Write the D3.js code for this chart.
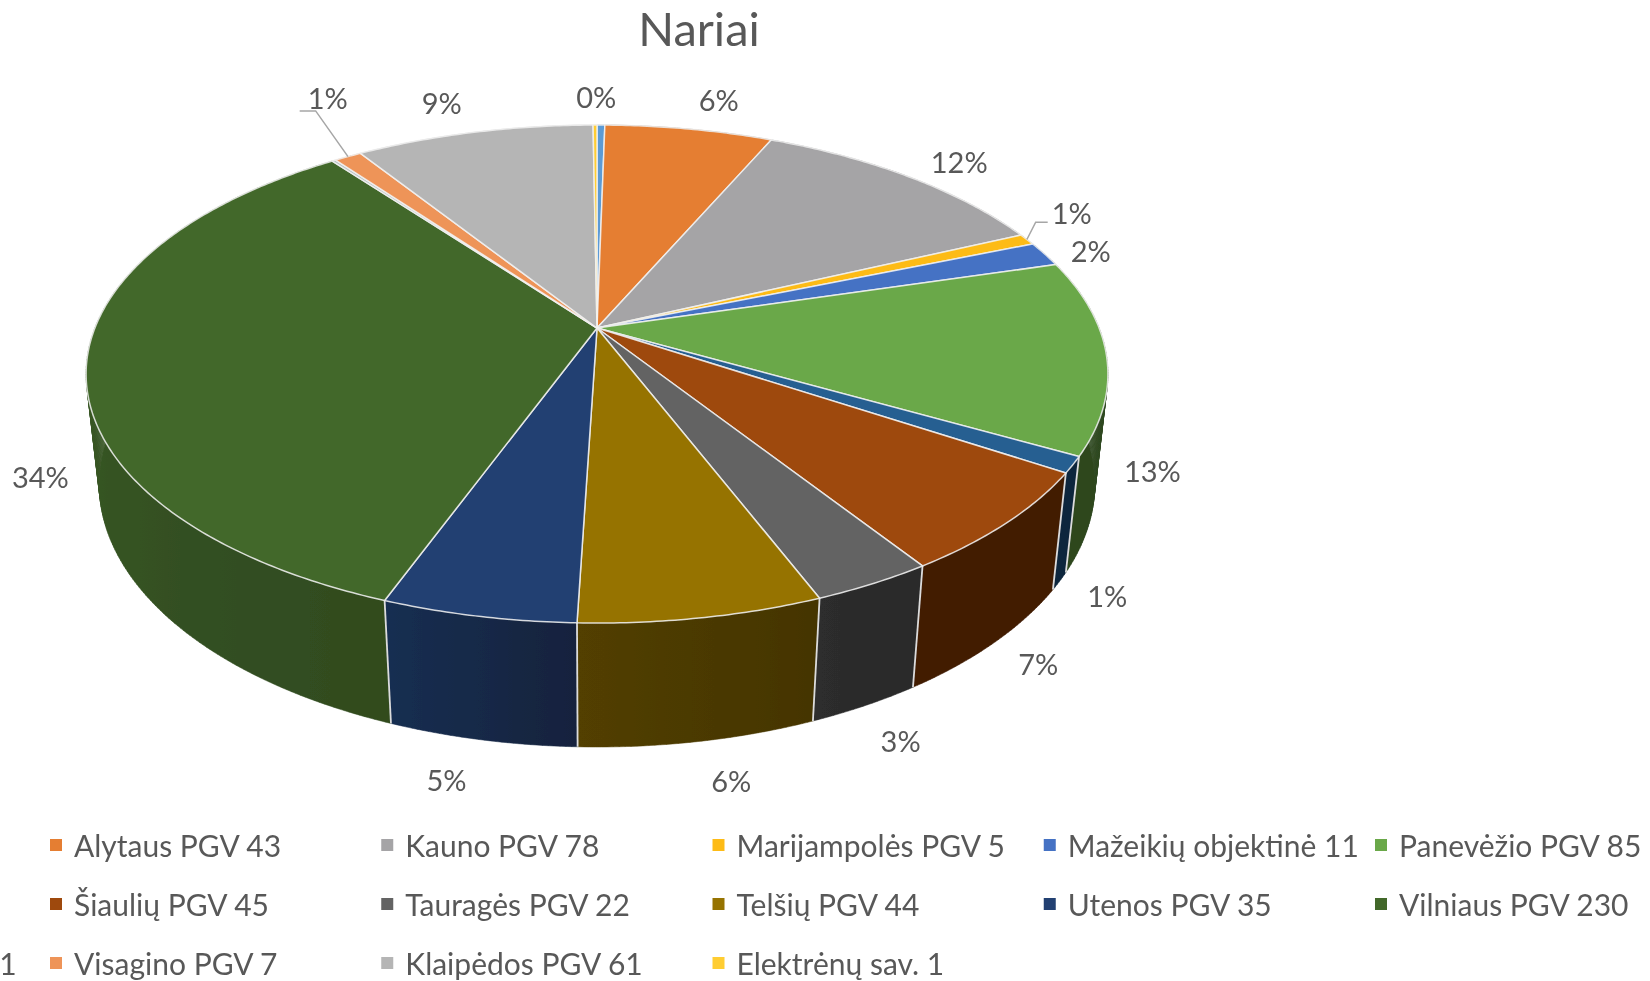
<!DOCTYPE html>
<html>
<head>
<meta charset="utf-8">
<script src="https://d3js.org/d3.v7.min.js"></script>
<style>
	html, body { margin: 0; padding: 0; background: #fff; }
	svg { display: block; }
	text { font-family: Lato, "Open Sans", sans-serif; fill: #595959; }
</style>
</head>
<body>
<svg class="pieGraph"></svg>
<script>
// slices in drawing order, clockwise from 12 o'clock. Blank names have no legend entry
const sliceNames = ['', 'Alytaus PGV', 'Kauno PGV', 'Marijampolės PGV', 'Mažeikių objektinė', 'Panevėžio PGV', '', 'Šiaulių PGV', 'Tauragės PGV', 'Telšių PGV', 'Utenos PGV', 'Vilniaus PGV', '', 'Visagino PGV', 'Klaipėdos PGV', 'Elektrėnų sav.'];
const sliceValues = [2, 43, 78, 5, 11, 85, 7, 45, 22, 44, 35, 230, 1, 7, 61, 1];
const sliceColors = ['#5b9bd5', '#e57e31', '#a5a4a6', '#fdbb16', '#4472c4', '#6aa84a', '#255e91', '#9e480e', '#636363', '#967300', '#234172', '#43682b', '#b9c4c4', '#ee9458', '#b5b5b5', '#ffcd33'];
const noLabel = [12, 15];
const clippedLegendText = '1';
const titleText = 'Nariai';

// where each percent label sits, relative to the rim point of its slice
const labelNudge = {
	0: [-5, -12], 1: [22, -13], 2: [23, -2], 3: [5, -19], 4: [4, 3], 5: [8, 1], 6: [-4, -2],
	7: [-3, -2], 8: [3, 2], 9: [20, 1], 10: [-21, 2], 11: [-8, -2], 13: [1, -44], 14: [-22, -13]
};
// leader lines: elbow and end, relative to the label centre
const leaders = {
	3: [[-36, 10], [-24, 10]],
	13: [[-12, 13], [-28, 13]]
};

const svg = d3.select('.pieGraph')
	.attr('width', 1650)
	.attr('height', 981);

const defs = svg.append('defs');
defs.append('filter')
	.attr('id', 'soft')
	.attr('x', 0).attr('y', 0).attr('width', 1).attr('height', 1)
	.attr('filterUnits', 'objectBoundingBox')
	.append('feGaussianBlur')
	.attr('stdDeviation', 0.6);

const root = svg.append('g').attr('filter', 'url(#soft)');
root.append('rect').attr('width', 1650).attr('height', 981).attr('fill', '#fff');

// camera for the tilted disc, the radius of the pie is 1
const cam = { cx: 597, cy: 328, f: 2385, d: 4.75, sin: 0.878, cos: 0.479 },
	depth = 0.2535;

const project = (angle, r, h) => {
	const u = r * Math.sin(angle),
		v = -r * Math.cos(angle),
		w = cam.d - v * cam.sin - h * cam.cos;
	return [cam.cx + cam.f * u / w, cam.cy + cam.f * (v * cam.cos - h * cam.sin) / w];
};

const total = d3.sum(sliceValues);
const percent = d3.format('.0%');
const colorScale = d3.scaleOrdinal().domain(d3.range(sliceValues.length)).range(sliceColors);
const line = d3.line();

const arcs = d3.pie().sort(null).value(d => d)(sliceValues);
const midAngle = d => (d.startAngle + d.endAngle) / 2;

const samples = (a0, a1, step = 0.01) => {
	const n = Math.max(1, Math.ceil((a1 - a0) / step));
	return d3.range(n + 1).map(i => a0 + (a1 - a0) * i / n);
};

// walls go dark on the right of the disc and lighter towards the left
const wallShade = d3.scaleLinear()
	.domain([0, 150, 185, 200, 270, 360].map(d => d * Math.PI / 180))
	.range([0.42, 0.42, 0.56, 0.72, 0.85, 0.85])
	.clamp(true);

const wallFill = (i, a) => {
	const c = d3.rgb(colorScale(i)), s = wallShade(a);
	return d3.rgb(c.r * s, c.g * s, c.b * s).formatHex();
};

// one horizontal gradient per wall, running from the start of the slice to its far x
arcs.forEach(d => {
	const cuts = samples(d.startAngle, d.endAngle, 0.05);
	const xs = cuts.map(a => project(a, 1, 0)[0]);
	const x0 = xs[0];
	const x1 = xs.reduce((far, x) => Math.abs(x - x0) > Math.abs(far - x0) ? x : far, x0);
	const grad = defs.append('linearGradient')
		.attr('id', `wall-${d.index}`)
		.attr('gradientUnits', 'userSpaceOnUse')
		.attr('x1', x0).attr('y1', 0)
		.attr('x2', x1 === x0 ? x0 + 1 : x1).attr('y2', 0);
	cuts.forEach((a, k) => {
		grad.append('stop')
			.attr('offset', x1 === x0 ? 0 : (xs[k] - x0) / (x1 - x0))
			.attr('stop-color', wallFill(d.index, a));
	});
});

// the rims cross at the sides of the disc, so a wall is a run of small quads
const wallPath = d => d3.pairs(samples(d.startAngle, d.endAngle)).map(([a0, a1]) =>
	line([project(a0, 1, 0), project(a1, 1, 0), project(a1, 1, -depth), project(a0, 1, -depth)]) + 'Z'
).join('');

const wallG = root.append('g').attr('class', 'walls');
wallG.selectAll('path')
	.data(arcs.slice().sort((a, b) => Math.cos(b.startAngle) - Math.cos(a.startAngle)))
	.join('path')
	.attr('d', wallPath)
	.attr('fill', d => `url(#wall-${d.index})`)
	.attr('stroke', d => `url(#wall-${d.index})`)
	.attr('stroke-width', 0.5);

// light edge between neighbouring walls
root.append('g').attr('class', 'wallEdges')
	.selectAll('path')
	.data(arcs.filter(d => Math.cos(d.startAngle) < 0.15))
	.join('path')
	.attr('d', d => line([project(d.startAngle, 1, 0), project(d.startAngle, 1, -depth)]))
	.attr('stroke', '#dcdcdc')
	.attr('stroke-width', 1.8)
	.attr('fill', 'none');

root.append('g').attr('class', 'slices')
	.selectAll('path')
	.data(arcs)
	.join('path')
	.attr('d', d => line([project(0, 0, 0)].concat(samples(d.startAngle, d.endAngle).map(a => project(a, 1, 0)))) + 'Z')
	.attr('fill', d => colorScale(d.index))
	.attr('stroke', '#f2f2f2')
	.attr('stroke-opacity', 0.85)
	.attr('stroke-width', 1.5)
	.attr('stroke-linejoin', 'round');

// data labels
const labelPos = d => {
	const a = midAngle(d);
	const p = project(a, 1.1, Math.cos(a) < 0 ? -depth : 0);
	const n = labelNudge[d.index];
	return [p[0] + n[0], p[1] + n[1]];
};
const labelled = arcs.filter(d => !noLabel.includes(d.index));

root.append('g').attr('class', 'leaders')
	.selectAll('path')
	.data(labelled.filter(d => leaders[d.index]))
	.join('path')
	.attr('d', d => {
		const p = labelPos(d);
		return line([project(midAngle(d), 1, 0)].concat(leaders[d.index].map(o => [p[0] + o[0], p[1] + o[1]])));
	})
	.attr('fill', 'none')
	.attr('stroke', '#a6a6a6')
	.attr('stroke-width', 1.5);

root.append('g').attr('class', 'labels')
	.selectAll('text')
	.data(labelled)
	.join('text')
	.attr('text-anchor', 'middle')
	.attr('dominant-baseline', 'central')
	.attr('font-size', 29)
	.attr('x', d => labelPos(d)[0])
	.attr('y', d => labelPos(d)[1])
	.text(d => percent(d.value / total));

// title
root.append('text')
	.attr('x', 699)
	.attr('y', 28)
	.attr('text-anchor', 'middle')
	.attr('dominant-baseline', 'central')
	.attr('font-size', 47)
	.text(titleText);

// legend, five columns
const legendItems = sliceNames
	.map((name, i) => ({ name, i, value: sliceValues[i] }))
	.filter(d => d.name);
const legendX = d3.scalePoint().domain(d3.range(5)).range([56, 1381]);
const legendY = d3.scalePoint().domain(d3.range(3)).range([845, 963]);

const legend = root.append('g').attr('class', 'legend')
	.selectAll('g')
	.data(legendItems)
	.join('g')
	.attr('transform', (d, k) => `translate(${legendX(k % 5)}, ${legendY(Math.floor(k / 5))})`);

legend.append('rect')
	.attr('x', -6)
	.attr('y', -6)
	.attr('width', 12)
	.attr('height', 12)
	.attr('fill', d => colorScale(d.i));

legend.append('text')
	.attr('x', 18)
	.attr('dominant-baseline', 'central')
	.attr('font-size', 30)
	.text(d => `${d.name} ${d.value}`);

root.append('text')
	.attr('x', 8)
	.attr('y', legendY(2))
	.attr('text-anchor', 'middle')
	.attr('dominant-baseline', 'central')
	.attr('font-size', 30)
	.text(clippedLegendText);
</script>
</body>
</html>
